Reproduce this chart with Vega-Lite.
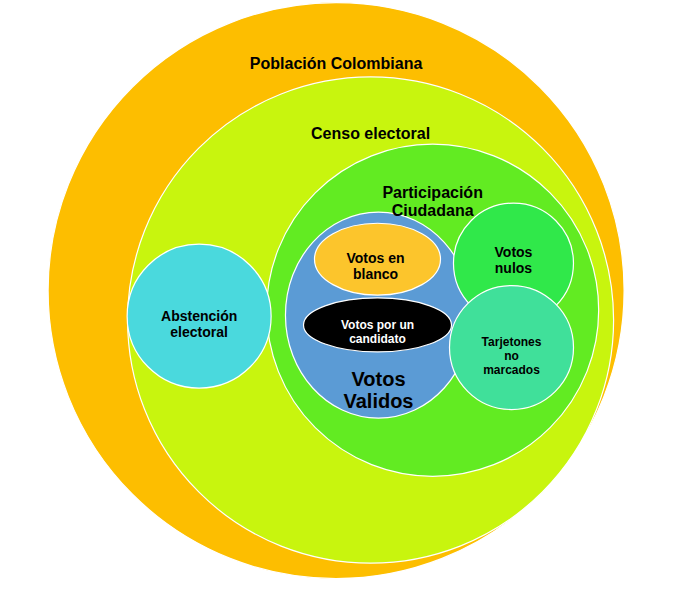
{
  "$schema": "https://vega.github.io/schema/vega-lite/v6.json",
  "autosize": {"type": "fit", "contains": "padding"},
  "width": 686,
  "height": 592,
  "background": "white",
  "config": {"view": {"stroke": null}},
  "layer": [
    {
      "data": {
        "values": [
          {"name": "Poblacion", "x": 336, "y": 290, "r": 288, "kind": "circle", "o": 1},
          {"name": "Censo", "x": 371, "y": 320, "r": 243, "kind": "circle", "o": 2},
          {"name": "Participacion", "x": 434, "y": 310, "r": 166, "kind": "circle", "o": 3},
          {"name": "Abstencion", "x": 197, "y": 316, "r": 72, "kind": "circle", "o": 4},
          {"name": "Validos", "x": 379, "y": 315, "r": 103, "kind": "tall", "o": 5},
          {"name": "Blanco", "x": 378, "y": 258, "r": 63, "kind": "wide", "o": 6},
          {"name": "Candidato", "x": 378, "y": 325, "r": 74, "kind": "flat", "o": 7},
          {"name": "Nulos", "x": 516, "y": 262, "r": 60, "kind": "circle", "o": 8},
          {"name": "Tarjetones", "x": 514, "y": 348, "r": 62, "kind": "circle", "o": 9}
        ]
      },
      "mark": {"type": "point", "filled": true, "opacity": 1, "stroke": "white", "strokeWidth": 1.2},
      "encoding": {
        "x": {"field": "x", "type": "quantitative", "scale": {"domain": [0, 686]}, "axis": null},
        "y": {"field": "y", "type": "quantitative", "scale": {"domain": [0, 592], "reverse": true}, "axis": null},
        "size": {"field": "r", "type": "quantitative", "scale": {"type": "pow", "exponent": 2, "domain": [0, 100], "range": [0, 40000]}, "legend": null},
        "shape": {"field": "kind", "type": "nominal", "legend": null, "scale": {
          "domain": ["circle", "tall", "wide", "flat"],
          "range": [
            "circle",
            "M -0.903 0 A 0.903 1 0 1 0 0.903 0 A 0.903 1 0 1 0 -0.903 0 Z",
            "M -1 0 A 1 0.571 0 1 0 1 0 A 1 0.571 0 1 0 -1 0 Z",
            "M -1 0 A 1 0.365 0 1 0 1 0 A 1 0.365 0 1 0 -1 0 Z"
          ]}},
        "color": {"field": "name", "type": "nominal", "legend": null, "scale": {
          "domain": ["Poblacion", "Censo", "Participacion", "Abstencion", "Validos", "Blanco", "Candidato", "Nulos", "Tarjetones"],
          "range": ["#fdbe00", "#c8f50e", "#62eb22", "#4ad9dd", "#5b9bd5", "#fcc52c", "#000000", "#30e84a", "#40e09a"]}},
        "order": {"field": "o", "type": "quantitative"}
      }
    },
    {
      "data": {
        "values": [
          {"label": "Población Colombiana", "x": 336, "y": 59, "fs": 16, "tone": "dark"},
          {"label": "Censo electoral", "x": 371, "y": 130, "fs": 16, "tone": "dark"},
          {"label": "Participación\nCiudadana", "x": 434, "y": 191, "fs": 16, "tone": "dark"},
          {"label": "Abstención\nelectoral", "x": 197, "y": 317, "fs": 14, "tone": "dark"},
          {"label": "Votos en\nblanco", "x": 376, "y": 258, "fs": 14, "tone": "dark"},
          {"label": "Votos por un\ncandidato", "x": 378, "y": 325, "fs": 12, "tone": "light"},
          {"label": "Votos\nValidos", "x": 379, "y": 381, "fs": 20, "tone": "dark"},
          {"label": "Votos\nnulos", "x": 516, "y": 252, "fs": 14, "tone": "dark"},
          {"label": "Tarjetones\nno\nmarcados", "x": 514, "y": 342, "fs": 12, "tone": "dark"}
        ]
      },
      "mark": {"type": "text", "font": "Liberation Sans", "fontWeight": "bold", "lineBreak": "\n", "align": "center", "baseline": "middle"},
      "encoding": {
        "x": {"field": "x", "type": "quantitative", "scale": {"domain": [0, 686]}, "axis": null},
        "y": {"field": "y", "type": "quantitative", "scale": {"domain": [0, 592], "reverse": true}, "axis": null},
        "text": {"field": "label"},
        "size": {"field": "fs", "type": "quantitative", "scale": null, "legend": null},
        "color": {"field": "tone", "type": "nominal", "legend": null, "scale": {"domain": ["dark", "light"], "range": ["#000000", "#ffffff"]}}
      }
    }
  ],
  "resolve": {"scale": {"color": "independent", "size": "independent"}}
}
